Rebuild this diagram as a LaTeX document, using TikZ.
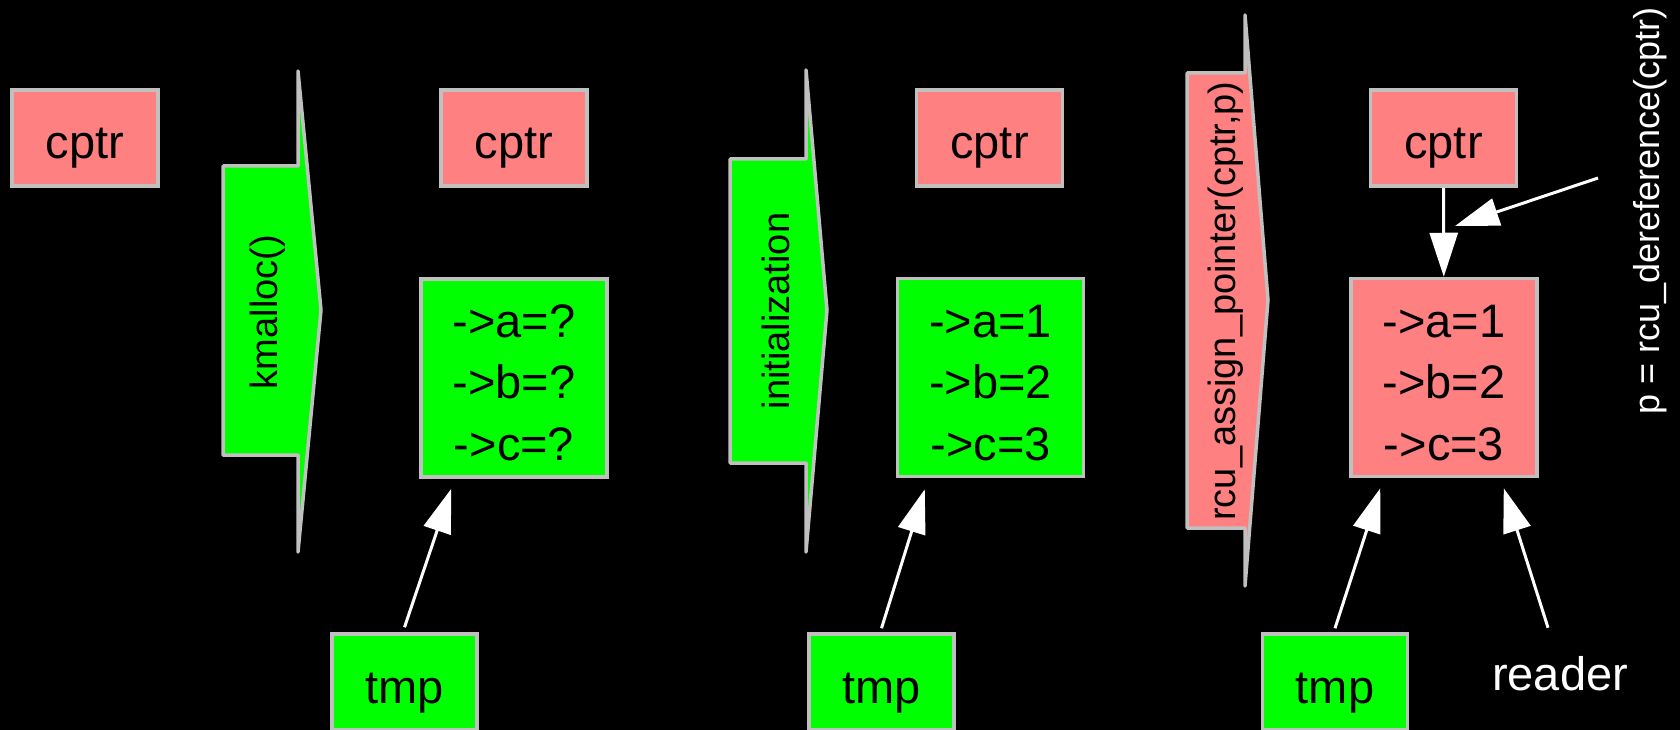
\documentclass[tikz,border=0pt]{standalone}
\usepackage{fontspec}
\setmainfont{Liberation Sans}
\usetikzlibrary{arrows.meta,calc}
\definecolor{salmon}{HTML}{FF8080}
\definecolor{lime}{HTML}{00FF00}
\definecolor{edgegrey}{HTML}{C0C0C0}
\tikzset{
  box/.style={draw=edgegrey, line width=3.5pt, rectangle, inner sep=0pt,
    minimum width=146pt, minimum height=96pt, text height=42pt, text depth=0pt,
    font=\fontsize{47}{56}\selectfont, text=black},
  ptrbox/.style={box, fill=salmon},
  tmpbox/.style={box, fill=lime, minimum width=145pt},
  structbox/.style={draw=edgegrey, line width=3.5pt, rectangle, inner sep=0pt,
    minimum width=186pt, minimum height=198pt},
  fieldtext/.style={anchor=base, inner sep=0pt, font=\fontsize{47}{56}\selectfont, text=black},
  blockarrow/.style={draw=edgegrey, line width=3.5pt, line join=round},
  steplabel/.style={rotate=90, inner sep=0pt, font=\fontsize{38}{45}\selectfont, text=black},
  conn/.style={white, line width=3pt, -{Triangle[length=44pt,width=28pt]}},
}
\begin{document}
\begin{tikzpicture}[x=1pt,y=-1pt]
\useasboundingbox (0,0) rectangle (1680,730);
\fill[black] (0,0) rectangle (1680,730);

% stage 1
\node[ptrbox] (c1) at (85,138) {cptr};

% kmalloc block arrow
\filldraw[blockarrow, fill=lime] (223,166) -- (298,166) -- (298,71) -- (321,310) -- (298,552) -- (298,455) -- (223,455) -- cycle;
\node[steplabel] (kmalloc) at (268,312) {kmalloc()};

% stage 2
\node[ptrbox] (c2) at (514,138) {cptr};
\node[structbox, fill=lime] (s1) at (514,378) {};
\node[fieldtext] (s1a) at (514,337) {->a=?};
\node[fieldtext] (s1b) at (514,398) {->b=?};
\node[fieldtext] (s1c) at (514,460) {->c=?};
\node[tmpbox] (t1) at (404.5,682) {tmp};
\draw[conn] ($(t1.north)+(0,-5)$) -- ($(s1.south west)+(32,10)$);

% initialization block arrow
\filldraw[blockarrow, fill=lime] (730,159) -- (806,159) -- (806,70) -- (827,310) -- (806,552) -- (806,463) -- (730,463) -- cycle;
\node[steplabel] (init) at (776,311) {initialization};

% stage 3
\node[ptrbox] (c3) at (989.5,138) {cptr};
\node[structbox, fill=lime] (s2) at (990.5,377.5) {};
\node[fieldtext] (s2a) at (990.5,337) {->a=1};
\node[fieldtext] (s2b) at (990.5,398) {->b=2};
\node[fieldtext] (s2c) at (990.5,460) {->c=3};
\node[tmpbox] (t2) at (881.5,682) {tmp};
\draw[conn] ($(t2.north)+(0,-4)$) -- ($(s2.south west)+(29,11)$);

% rcu_assign_pointer block arrow
\filldraw[blockarrow, fill=salmon] (1187,73) -- (1245,73) -- (1245,15) -- (1268,300) -- (1245,586) -- (1245,528) -- (1187,528) -- cycle;
\node[steplabel] (assign) at (1226,301) {rcu\_assign\_pointer(cptr,p)};

% stage 4
\node[ptrbox] (c4) at (1443.5,138) {cptr};
\node[structbox, fill=salmon] (s3) at (1444,377.5) {};
\node[fieldtext] (s3a) at (1444,337) {->a=1};
\node[fieldtext] (s3b) at (1444,398) {->b=2};
\node[fieldtext] (s3c) at (1444,460) {->c=3};
\node[tmpbox] (t3) at (1335,682) {tmp};
\draw[conn] ($(t3.north)+(0,-4)$) -- ($(s3.south west)+(31,10)$);
\draw[conn] (c4) -- (s3);

\node[anchor=base, inner sep=0pt, text=white, font=\fontsize{47}{56}\selectfont] (reader) at (1560,690) {reader};
\draw[conn] ($(reader.north)+(-12,-28)$) -- ($(s3.south east)+(-35,10)$);

\node[steplabel, text=white, font=\fontsize{36}{43}\selectfont] (deref) at (1650,211) {p = rcu\_dereference(cptr)};
\coordinate (dtail) at (1598,178);
\coordinate (dtip) at (1455,226);
\draw[conn] (dtail) -- (dtip);
\end{tikzpicture}
\end{document}
